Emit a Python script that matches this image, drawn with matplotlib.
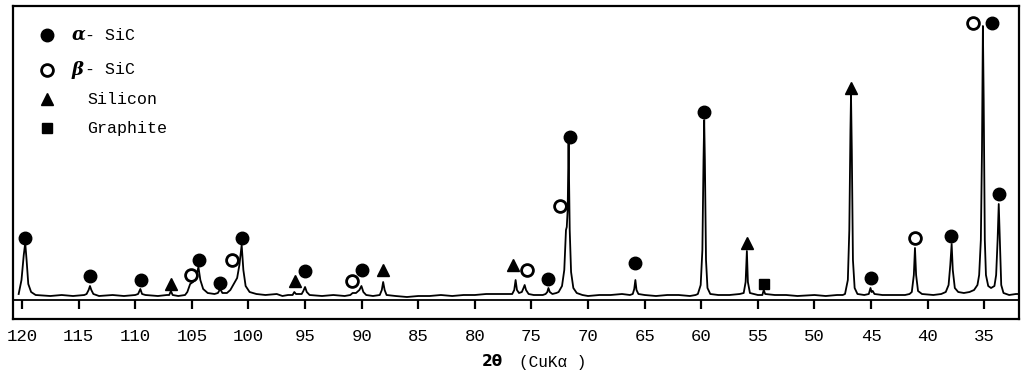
import numpy as np
import matplotlib
matplotlib.use("Agg")
import matplotlib.pyplot as plt

plt.rcParams.update({"font.family": "Liberation Mono", "font.size": 11})

# diffraction trace, 2theta (deg) vs intensity (arbitrary, chart-height units)
TRACE = [
    (120.30, 6), (120.05, 20), (119.85, 45), (119.72, 57), (119.60, 40), (119.45, 16), (119.20, 8),
    (118.80, 5), (117.5, 4), (116.5, 5), (115.5, 4), (114.5, 5),
    (114.30, 6), (114.12, 10), (114.00, 14), (113.88, 10), (113.70, 6), (113.2, 4), (112.0, 5),
    (111.0, 4), (110.0, 5),
    (109.75, 6), (109.55, 11), (109.40, 6), (109.1, 5), (108.0, 4), (107.2, 5),
    (107.00, 5), (106.85, 9), (106.70, 5), (106.2, 4), (105.6, 5),
    (105.40, 8), (105.15, 16), (104.90, 18), (104.60, 24), (104.42, 33), (104.25, 20), (104.00, 11),
    (103.6, 7), (103.0, 6),
    (102.70, 7), (102.50, 11), (102.30, 7), (101.9, 7),
    (101.60, 10), (101.30, 16), (101.00, 22), (100.80, 35), (100.60, 55), (100.45, 30), (100.25, 14),
    (99.9, 8), (99.3, 6), (98.5, 5), (97.5, 6), (97.0, 4), (96.5, 5),
    (96.10, 5), (95.95, 8), (95.80, 6),
    (95.30, 6), (95.15, 9), (95.00, 13), (94.85, 8), (94.60, 5), (93.5, 4), (92.5, 5), (91.5, 4),
    (91.00, 5), (90.80, 7), (90.50, 7), (90.20, 10), (90.02, 14), (89.85, 8), (89.60, 5), (89.0, 4),
    (88.40, 5), (88.22, 10), (88.10, 18), (87.97, 10), (87.80, 5), (87.0, 4), (86.0, 3), (85.0, 4),
    (84.0, 4), (83.0, 5), (82.0, 4), (81.0, 5), (80.0, 5), (79.0, 6), (78.0, 6), (77.2, 6),
    (76.70, 6), (76.52, 10), (76.40, 20), (76.28, 10), (76.10, 7), (75.85, 8), (75.70, 12),
    (75.60, 15), (75.48, 10), (75.25, 6), (74.8, 5), (74.0, 5),
    (73.75, 6), (73.60, 8), (73.50, 12), (73.38, 8), (73.15, 6), (72.8, 7),
    (72.60, 8), (72.30, 14), (72.10, 30), (71.95, 70), (71.88, 73), (71.80, 90), (71.72, 157),
    (71.62, 70), (71.50, 28), (71.30, 12), (71.0, 7), (70.5, 5), (70.0, 4), (69.0, 5), (68.0, 5),
    (67.0, 6), (66.3, 5),
    (66.05, 6), (65.92, 11), (65.82, 20), (65.72, 10), (65.55, 6), (65.0, 5), (64.0, 4), (63.0, 5),
    (62.0, 5), (61.0, 4), (60.5, 5),
    (60.30, 6), (60.05, 15), (59.90, 50), (59.80, 140), (59.74, 180), (59.68, 140), (59.58, 40),
    (59.45, 12), (59.2, 6), (58.5, 5), (57.5, 5), (56.6, 6),
    (56.25, 7), (56.08, 18), (55.97, 49), (55.88, 18), (55.70, 7), (55.0, 5),
    (54.60, 5), (54.48, 10), (54.35, 6), (53.5, 5), (52.5, 5), (51.5, 4), (50.0, 5), (49.0, 4),
    (48.0, 5), (47.5, 5),
    (47.30, 6), (47.05, 20), (46.92, 70), (46.82, 170), (46.77, 205), (46.70, 150), (46.60, 40),
    (46.45, 12), (46.2, 6), (45.6, 5),
    (45.20, 6), (45.05, 12), (44.95, 8), (44.85, 9), (44.70, 6), (44.0, 5), (43.0, 5), (42.0, 5),
    (41.6, 6),
    (41.40, 8), (41.22, 25), (41.12, 52), (41.02, 25), (40.85, 9), (40.5, 6), (39.5, 5), (38.8, 6),
    (38.4, 8),
    (38.15, 15), (38.00, 35), (37.88, 56), (37.78, 30), (37.60, 12), (37.3, 8), (36.8, 7), (36.3, 8),
    (35.9, 10), (35.6, 15),
    (35.45, 25), (35.30, 60), (35.20, 150), (35.12, 274), (35.05, 200), (34.95, 60), (34.85, 25),
    (34.65, 14), (34.4, 12), (34.1, 14),
    (33.95, 25), (33.82, 60), (33.72, 96), (33.62, 60), (33.50, 15), (33.3, 7), (32.8, 5),
    (32.2, 6), (31.95, 6),
]
two_theta = np.array([p[0] for p in TRACE])
counts = np.array([p[1] for p in TRACE])

# phase markers (2theta, height)
ALPHA_SIC = [(119.7, 62), (114.0, 24), (109.5, 20), (104.4, 40), (102.5, 17), (100.6, 62),
             (95.0, 29), (90.0, 30), (73.5, 21), (71.6, 163), (65.85, 37), (59.75, 188),
             (45.0, 22), (37.9, 64), (34.3, 277), (33.7, 106)]
BETA_SIC = [(105.1, 25), (101.45, 40), (90.85, 19), (75.4, 30), (72.5, 94), (41.1, 62), (36.0, 277)]
SILICON = [(106.8, 16), (95.9, 19), (88.1, 30), (76.65, 35), (56.0, 57), (46.75, 212)]
GRAPHITE = [(54.45, 16)]

TICKS = [120, 115, 110, 105, 100, 95, 90, 85, 80, 75, 70, 65, 60, 55, 50, 45, 40, 35]

W, H = 1023, 380
fig = plt.figure(figsize=(W / 100, H / 100), dpi=100)
ax = fig.add_axes([13 / W, (H - 319) / H, 1006 / W, 313 / H])

ax.plot(two_theta, counts, color="black", lw=1.3)
ax.axhline(0, color="black", lw=1.3)
ax.vlines(TICKS, -9, 0, color="black", lw=1.6)

mk = dict(ls="none", color="black", clip_on=False)
ax.plot(*zip(*ALPHA_SIC), marker="o", ms=9, **mk)
ax.plot(*zip(*BETA_SIC), marker="o", ms=8.5, mfc="white", mew=2, **mk)
ax.plot(*zip(*SILICON), marker="^", ms=9, **mk)
ax.plot(*zip(*GRAPHITE), marker="s", ms=7, **mk)

ax.set_xlim(120.8, 31.93)
ax.set_ylim(-19, 294)
ax.set_yticks([])
ax.set_xticks(TICKS)
ax.set_xticklabels([str(t) for t in TICKS], fontsize=12.5)
ax.tick_params(axis="x", length=0, pad=7)
for s in ax.spines.values():
    s.set_linewidth(1.6)


# legend block in the upper-left corner
def px(x, y):
    return (x - 13) / 1006, (319 - y) / 313


rows = [("o", "black", 9, 35, "α", "- SiC", 72),
        ("o", "white", 8.5, 70, "β", "- SiC", 72),
        ("^", "black", 9, 99, None, "Silicon", 87),
        ("s", "black", 7, 128, None, "Graphite", 87)]
for m, fc, ms, y, greek, label, tx in rows:
    ax.plot(*px(47, y), marker=m, ms=ms, mfc=fc, mec="black", mew=2 if fc == "white" else 1,
            transform=ax.transAxes, clip_on=False)
    if greek:
        ax.text(*px(tx, y), greek, transform=ax.transAxes, va="center", ha="left",
                fontsize=13, fontweight="bold", fontstyle="italic", family="DejaVu Serif")
        ax.text(*px(tx + 13, y), label, transform=ax.transAxes, va="center", ha="left", fontsize=12)
    else:
        ax.text(*px(tx, y), label, transform=ax.transAxes, va="center", ha="left", fontsize=12)

fig.text(492 / W, 1 - 362 / H, "2θ", ha="center", va="center", fontsize=11,
         fontweight="bold", family="DejaVu Sans")
fig.text(553 / W, 1 - 362 / H, "(CuKα )", ha="center", va="center", fontsize=11.5)

fig.savefig("out.png", dpi=100)
